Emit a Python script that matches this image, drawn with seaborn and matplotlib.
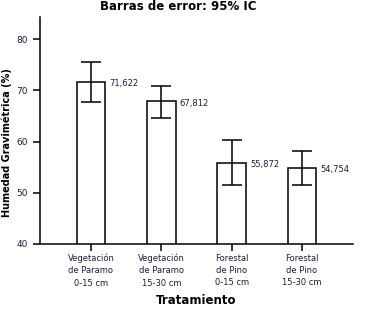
import matplotlib
matplotlib.use("Agg")
import matplotlib.pyplot as plt
import seaborn as sns
import numpy as np
import pandas as pd

categorias = ["Vegetación\nde Paramo\n0-15 cm", "Vegetación\nde Paramo\n15-30 cm",
              "Forestal\nde Pino\n0-15 cm", "Forestal\nde Pino\n15-30 cm"]
medias = [71.622, 67.812, 55.872, 54.754]
ic_inf = [67.7, 64.6, 51.5, 51.5]
ic_sup = [75.5, 70.9, 60.3, 58.1]
etiquetas = ["71,622", "67,812", "55,872", "54,754"]

sns.set_style("ticks", {"axes.edgecolor": "black", "text.color": "black",
                        "xtick.color": "black", "ytick.color": "black",
                        "axes.labelcolor": "black"})
plt.rcParams['font.family'] = ['DejaVu Sans']

df = pd.DataFrame({"cat": categorias, "media": medias})

fig = plt.figure(figsize=(3.65, 3.15), dpi=100)
ax = fig.add_axes([0.1096, 0.2254, 0.8574, 0.7206])

sns.barplot(data=df, x="cat", y="media", color="white", edgecolor="black",
            linewidth=1.1, width=0.41, errorbar=None, ax=ax)

x = np.arange(len(medias))
yerr = [np.array(medias) - np.array(ic_inf), np.array(ic_sup) - np.array(medias)]
ax.errorbar(x, medias, yerr=yerr, fmt="none", ecolor="black", elinewidth=1.1,
            capsize=7, capthick=1.1)

for i, (m, t) in enumerate(zip(medias, etiquetas)):
    ax.text(i + 0.26, m - 0.3, t, va="center", ha="left", fontsize=6,
            color="#1c1c3c")

ax.set_ylim(40, 84.3)
ax.set_xlim(-0.725, 3.725)
ax.set_yticks([40, 50, 60, 70, 80])
sns.despine(ax=ax)
ax.spines["left"].set_linewidth(1.1)
ax.spines["bottom"].set_linewidth(1.1)
ax.tick_params(axis="both", direction="out", length=5, width=1.1,
               labelsize=6.5, labelcolor="#1c1c3c")
ax.tick_params(axis="x", length=5, pad=2, labelsize=6)
for lbl in ax.get_xticklabels():
    lbl.set_linespacing(1.45)
ax.set_xlabel("Tratamiento", fontsize=8.5, fontweight="bold", labelpad=5)
ax.set_ylabel("Humedad Gravimétrica (%)", fontsize=7, fontweight="bold")
ax.yaxis.set_label_coords(-0.089, 0.445)
fig.text(178 / 365, 0.978, "Barras de error: 95% IC", ha="center", va="center",
         fontsize=8.5, fontweight="bold")

fig.savefig("out.png", dpi=100)
